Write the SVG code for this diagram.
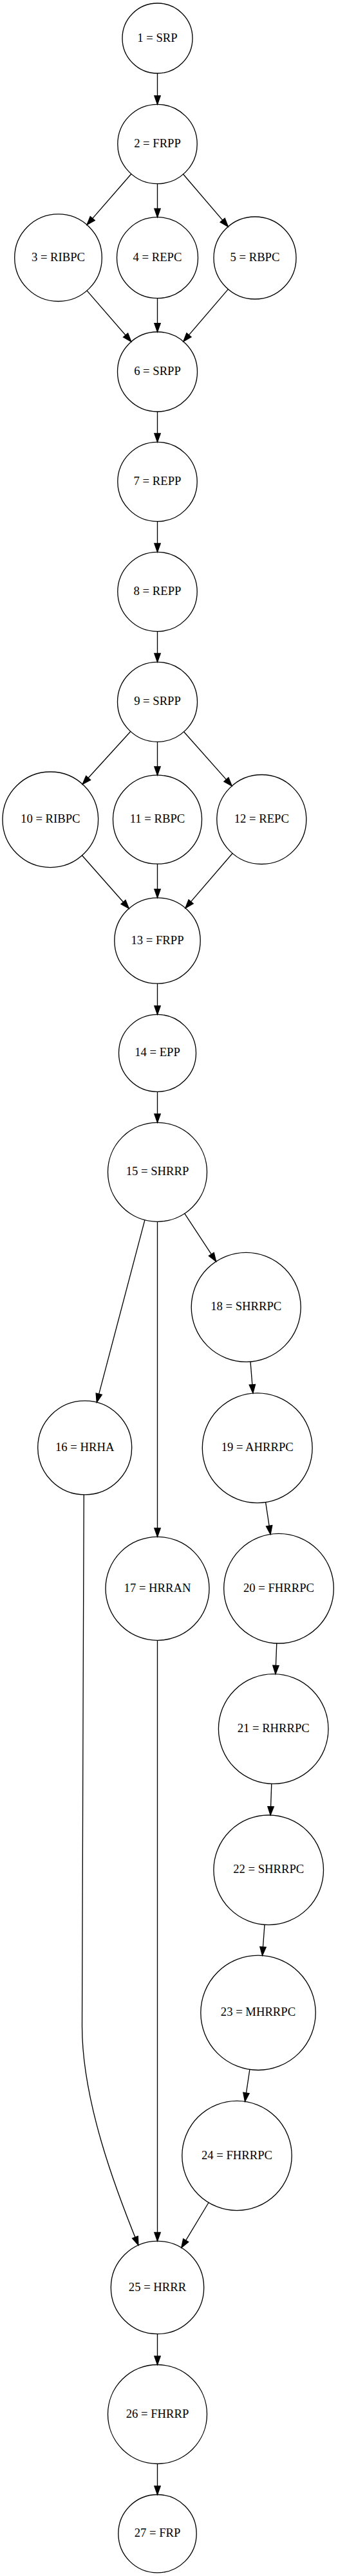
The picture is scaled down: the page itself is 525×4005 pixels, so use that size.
<svg xmlns="http://www.w3.org/2000/svg" width="525" height="4005" viewBox="0 0 525 4005">
<style>
  .node circle { fill: none; stroke: #000; stroke-width: 1.33; }
  .node text { font-family: "Liberation Serif", "Times New Roman", serif; font-size: 18.67px; text-anchor: middle; fill: #000; }
  #edges line, #edges path { fill: none; stroke: #000; stroke-width: 1.33; marker-end: url(#arrow); }
</style>
<defs>
  <marker id="arrow" markerUnits="userSpaceOnUse" markerWidth="16" markerHeight="12" refX="13.3" refY="4.67" orient="auto" overflow="visible">
    <path d="M0,0 L13.3,4.67 L0,9.33 Z" fill="#000" stroke="#000" stroke-width="1.33" stroke-linejoin="miter"/>
  </marker>
</defs>
<rect width="525" height="4005" fill="#fff"/>
<g id="edges">
  <line x1="244.5" y1="114" x2="244.5" y2="162.3"/>
  <line x1="203.8" y1="270.5" x2="135" y2="349.6"/>
  <line x1="244.5" y1="285.7" x2="244.5" y2="337.7"/>
  <line x1="284.5" y1="270.8" x2="354.3" y2="352.4"/>
  <line x1="135" y1="451.9" x2="203.8" y2="531.2"/>
  <line x1="244.5" y1="463.7" x2="244.5" y2="516"/>
  <line x1="354.4" y1="449.6" x2="284.8" y2="530.9"/>
  <line x1="244.5" y1="640" x2="244.5" y2="687.3"/>
  <line x1="244.5" y1="810.7" x2="244.5" y2="858.3"/>
  <line x1="244.5" y1="981.7" x2="244.5" y2="1029.3"/>
  <line x1="202.8" y1="1137.2" x2="128.2" y2="1219.3"/>
  <line x1="244.5" y1="1153.3" x2="244.5" y2="1205.2"/>
  <line x1="285.6" y1="1137.7" x2="360.2" y2="1221.9"/>
  <line x1="127.5" y1="1330" x2="200.3" y2="1412.5"/>
  <line x1="244.5" y1="1343.2" x2="244.5" y2="1395.8"/>
  <line x1="361.1" y1="1326.8" x2="287.9" y2="1411.9"/>
  <line x1="244.5" y1="1529.2" x2="244.5" y2="1577.3"/>
  <line x1="244.5" y1="1697.3" x2="244.5" y2="1745.3"/>
  <line x1="224.9" y1="1896.8" x2="150.3" y2="2180.2"/>
  <line x1="244.5" y1="1899.3" x2="244.5" y2="2389.3"/>
  <line x1="286.7" y1="1886.7" x2="335.6" y2="1961.2"/>
  <line x1="389" y1="2117" x2="392.9" y2="2166.1"/>
  <line x1="412.6" y1="2335.6" x2="420.1" y2="2385.4"/>
  <line x1="429.8" y1="2554.9" x2="427.9" y2="2602.8"/>
  <line x1="421.8" y1="2773.3" x2="420.1" y2="2822.1"/>
  <line x1="411" y1="2992.4" x2="407.5" y2="3040.3"/>
  <line x1="387.9" y1="3217.5" x2="380.5" y2="3267.2"/>
  <path d="M130.3,2324 C129.5,2600 127.5,2900 127.5,3150 C127.5,3265 178,3400 214.9,3490.7"/>
  <line x1="244.5" y1="2550.3" x2="244.5" y2="3484.3"/>
  <line x1="324" y1="3424.5" x2="281.8" y2="3494.6"/>
  <line x1="244.5" y1="3628.7" x2="244.5" y2="3676.5"/>
  <line x1="244.5" y1="3830.5" x2="244.5" y2="3878.5"/>
</g>
<g id="n1" class="node"><circle cx="244.5" cy="59.5" r="54.5"/><text x="244.5" y="64.5">1 = SRP</text></g>
<g id="n2" class="node"><circle cx="244.5" cy="224" r="61.7"/><text x="244.5" y="229">2 = FRPP</text></g>
<g id="n3" class="node"><circle cx="90.5" cy="400.7" r="67.8"/><text x="90.5" y="405.7">3 = RIBPC</text></g>
<g id="n4" class="node"><circle cx="244.5" cy="400.7" r="63"/><text x="244.5" y="405.7">4 = REPC</text></g>
<g id="n5" class="node"><circle cx="396" cy="401" r="64"/><text x="396" y="406">5 = RBPC</text></g>
<g id="n6" class="node"><circle cx="244.5" cy="578" r="62"/><text x="244.5" y="583">6 = SRPP</text></g>
<g id="n7" class="node"><circle cx="244.5" cy="749" r="61.7"/><text x="244.5" y="754">7 = REPP</text></g>
<g id="n8" class="node"><circle cx="244.5" cy="920" r="61.7"/><text x="244.5" y="925">8 = REPP</text></g>
<g id="n9" class="node"><circle cx="244.5" cy="1091.3" r="62"/><text x="244.5" y="1096.3">9 = SRPP</text></g>
<g id="n10" class="node"><circle cx="78.3" cy="1274.3" r="74.3"/><text x="78.3" y="1279.3">10 = RIBPC</text></g>
<g id="n11" class="node"><circle cx="244.5" cy="1274.2" r="69"/><text x="244.5" y="1279.2">11 = RBPC</text></g>
<g id="n12" class="node"><circle cx="406.3" cy="1274" r="69.5"/><text x="406.3" y="1279">12 = REPC</text></g>
<g id="n13" class="node"><circle cx="244.5" cy="1462.5" r="66.7"/><text x="244.5" y="1467.5">13 = FRPP</text></g>
<g id="n14" class="node"><circle cx="244.5" cy="1637.3" r="60"/><text x="244.5" y="1642.3">14 = EPP</text></g>
<g id="n15" class="node"><circle cx="244.5" cy="1822.3" r="77"/><text x="244.5" y="1827.3">15 = SHRRP</text></g>
<g id="n16" class="node"><circle cx="131.7" cy="2250.8" r="73"/><text x="131.7" y="2255.8">16 = HRHA</text></g>
<g id="n17" class="node"><circle cx="244.5" cy="2469.8" r="80.5"/><text x="244.5" y="2474.8">17 = HRRAN</text></g>
<g id="n18" class="node"><circle cx="382.2" cy="2032.3" r="85"/><text x="382.2" y="2037.3">18 = SHRRPC</text></g>
<g id="n19" class="node"><circle cx="399.7" cy="2251.2" r="85.4"/><text x="399.7" y="2256.2">19 = AHRRPC</text></g>
<g id="n20" class="node"><circle cx="433" cy="2469.7" r="85.3"/><text x="433" y="2474.7">20 = FHRRPC</text></g>
<g id="n21" class="node"><circle cx="424.7" cy="2688" r="85.3"/><text x="424.7" y="2693">21 = RHRRPC</text></g>
<g id="n22" class="node"><circle cx="417.2" cy="2907.3" r="85.3"/><text x="417.2" y="2912.3">22 = SHRRPC</text></g>
<g id="n23" class="node"><circle cx="401" cy="3129.3" r="89.2"/><text x="401" y="3134.3">23 = MHRRPC</text></g>
<g id="n24" class="node"><circle cx="368" cy="3351.5" r="85.2"/><text x="368" y="3356.5">24 = FHRRPC</text></g>
<g id="n25" class="node"><circle cx="244.5" cy="3556.5" r="72.2"/><text x="244.5" y="3561.5">25 = HRRR</text></g>
<g id="n26" class="node"><circle cx="244.5" cy="3753.5" r="77"/><text x="244.5" y="3758.5">26 = FHRRP</text></g>
<g id="n27" class="node"><circle cx="244.5" cy="3939.2" r="60.7"/><text x="244.5" y="3944.2">27 = FRP</text></g>
</svg>
